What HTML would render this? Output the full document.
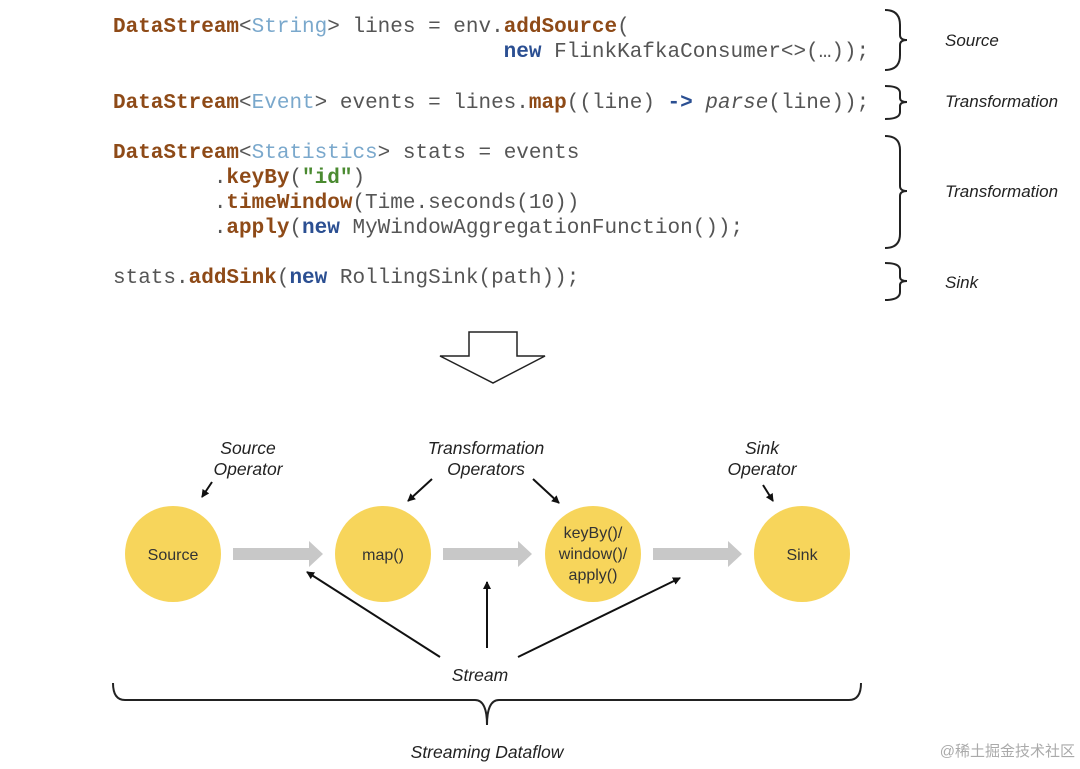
<!DOCTYPE html>
<html><head><meta charset="utf-8"><style>
body{margin:0;width:1080px;height:769px;background:#fff;position:relative;overflow:hidden}
.code{position:absolute;left:113px;font-family:"Liberation Mono",monospace;font-size:21px;color:#555;white-space:pre;line-height:25px}
.b{color:#8e4a17;font-weight:bold}.t{color:#7aa8cc}.n{color:#2b4f92;font-weight:bold}.s{color:#4a8a30;font-weight:bold}
.lab{position:absolute;font-family:"Liberation Sans",sans-serif;font-style:italic;font-size:17px;color:#222}
</style></head><body>
<div class="code" style="top:15px"><span class="b">DataStream</span>&lt;<span class="t">String</span>&gt; lines = env.<span class="b">addSource</span>(
                               <span class="n">new</span> FlinkKafkaConsumer&lt;&gt;(…));</div>
<div class="code" style="top:91px"><span class="b">DataStream</span>&lt;<span class="t">Event</span>&gt; events = lines.<span class="b">map</span>((line) <span class="n">-&gt;</span> <i>parse</i>(line));</div>
<div class="code" style="top:141px"><span class="b">DataStream</span>&lt;<span class="t">Statistics</span>&gt; stats = events
        .<span class="b">keyBy</span>(<span class="s">"id"</span>)
        .<span class="b">timeWindow</span>(Time.seconds(10))
        .<span class="b">apply</span>(<span class="n">new</span> MyWindowAggregationFunction());</div>
<div class="code" style="top:266px">stats.<span class="b">addSink</span>(<span class="n">new</span> RollingSink(path));</div>
<div class="lab" style="left:945px;top:31px">Source</div>
<div class="lab" style="left:945px;top:92px">Transformation</div>
<div class="lab" style="left:945px;top:182px">Transformation</div>
<div class="lab" style="left:945px;top:273px">Sink</div>
<svg width="1080" height="769" style="position:absolute;left:0;top:0" font-family="Liberation Sans,sans-serif">
<defs><marker id="a" markerWidth="8" markerHeight="8" refX="7" refY="4" orient="auto" markerUnits="userSpaceOnUse"><path d="M0,0L8,4L0,8z" fill="#111"/></marker></defs>
<g fill="none" stroke="#222" stroke-width="2">
<path d="M885,10 Q900,10 900,25 V35 Q900,40 907,40 Q900,40 900,45 V55 Q900,70 885,70"/>
<path d="M885,86 Q900,86 900,93 V98 Q900,102 907,102 Q900,102 900,106 V112 Q900,119 885,119"/>
<path d="M885,136 Q900,136 900,150 V186 Q900,191 907,191 Q900,191 900,196 V234 Q900,248 885,248"/>
<path d="M885,263 Q900,263 900,270 V277 Q900,281 907,281 Q900,281 900,285 V292 Q900,300 885,300"/>
<path d="M469,332 H517 V356 H545 L493,383 L440,356 H469 Z" stroke-width="1.5"/>
<path d="M113,683 Q113,700 125,700 H475 Q487,700 487,725 Q487,700 499,700 H849 Q861,700 861,683"/>
</g>
<g fill="#f7d55b"><circle cx="173" cy="554" r="48"/><circle cx="383" cy="554" r="48"/><circle cx="593" cy="554" r="48"/><circle cx="802" cy="554" r="48"/></g>
<g fill="#c8c8c8"><path d="M233,548H309V541L323,554L309,567V560H233Z"/><path d="M443,548H518V541L532,554L518,567V560H443Z"/><path d="M653,548H728V541L742,554L728,567V560H653Z"/></g>
<g font-size="16" fill="#333" text-anchor="middle"><text x="173" y="560">Source</text><text x="383" y="560">map()</text><text x="593" y="538">keyBy()/</text><text x="593" y="559">window()/</text><text x="593" y="580">apply()</text><text x="802" y="560">Sink</text></g>
<g font-size="17.5" font-style="italic" fill="#222" text-anchor="middle"><text x="248" y="454">Source</text><text x="248" y="475">Operator</text><text x="486" y="454">Transformation</text><text x="486" y="475">Operators</text><text x="762" y="454">Sink</text><text x="762" y="475">Operator</text><text x="480" y="681">Stream</text><text x="487" y="758">Streaming Dataflow</text></g>
<g stroke="#111" stroke-width="2" marker-end="url(#a)"><line x1="212" y1="482" x2="202" y2="497"/><line x1="432" y1="479" x2="408" y2="501"/><line x1="533" y1="479" x2="559" y2="503"/><line x1="763" y1="485" x2="773" y2="501"/><line x1="440" y1="657" x2="307" y2="572"/><line x1="487" y1="648" x2="487" y2="582"/><line x1="518" y1="657" x2="680" y2="578"/></g>
<text x="1075" y="756" font-size="15" fill="#aaa" text-anchor="end" font-family="Liberation Sans,Noto Sans CJK SC,sans-serif">@稀土掘金技术社区</text>
</svg>
</body></html>
